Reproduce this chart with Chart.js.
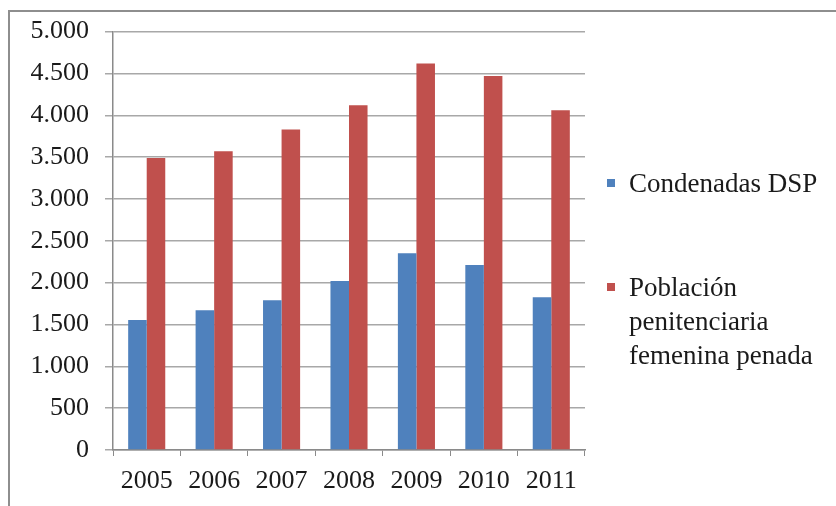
<!DOCTYPE html>
<html>
<head>
<meta charset="utf-8">
<script src="https://cdn.jsdelivr.net/npm/chart.js@4"></script>
<style>
  html, body { margin: 0; padding: 0; background: #fff; }
  #wrap { position: relative; width: 836px; height: 506px; overflow: hidden; }
  #frame {
    position: absolute; left: 8px; top: 10px; width: 828px; height: 496px;
    border-top: 2px solid #8e8e8e; border-left: 2px solid #8e8e8e;
    box-sizing: border-box; pointer-events: none;
  }
  #legend {
    position: absolute; left: 607px; top: 0; width: 229px;
    font-family: "Liberation Serif", "Times New Roman", serif;
    font-size: 27px; line-height: 34px; color: #1a1a1a;
  }
  .item { position: absolute; left: 0; white-space: nowrap; }
  .box { position: absolute; left: 0; width: 8px; height: 8px; }
  .text { position: absolute; left: 22px; top: 0; }
</style>
</head>
<body>
<div id="wrap">
  <canvas id="chart" width="836" height="506"></canvas>
  <div id="frame"></div>
  <div id="legend"></div>
</div>
<script>
const years = ["2005", "2006", "2007", "2008", "2009", "2010", "2011"];
const condenadas = [1555, 1670, 1790, 2020, 2350, 2210, 1825];
const poblacion = [3490, 3570, 3830, 4120, 4620, 4470, 4060];

const seriesNames = [
  ["Condenadas DSP"],
  ["Población", "penitenciaria", "femenina penada"]
];
const colors = ["#4F81BD", "#C0504D"];

// thousands separator with a dot, e.g. 3.500
function formatTick(v) {
  return String(v).replace(/\B(?=(\d{3})+(?!\d))/g, ".");
}

const font = { family: "'Liberation Serif', 'Times New Roman', serif", size: 26 };

new Chart(document.getElementById("chart"), {
  type: "bar",
  data: {
    labels: years,
    datasets: [
      { label: seriesNames[0].join(" "), data: condenadas, backgroundColor: colors[0] },
      { label: seriesNames[1].join(" "), data: poblacion, backgroundColor: colors[1] }
    ]
  },
  options: {
    responsive: false,
    animation: false,
    categoryPercentage: 0.55,
    barPercentage: 1.0,
    layout: {
      padding: { left: 0, right: 251, top: 30, bottom: 0 }
    },
    plugins: {
      legend: { display: false },
      tooltip: { enabled: false }
    },
    scales: {
      x: {
        grid: {
          drawOnChartArea: false,
          drawTicks: true,
          tickLength: 6,
          color: "#8a8a8a"
        },
        border: { color: "#8a8a8a", width: 1.5 },
        ticks: {
          color: "#1a1a1a",
          font: font,
          padding: 10,
          maxRotation: 0
        },
        afterFit: function(scale) {
          scale.height = 56;
        }
      },
      y: {
        min: 0,
        max: 5000,
        grid: {
          color: "#a8a8a8",
          lineWidth: 1.5,
          tickLength: 8
        },
        border: { color: "#8a8a8a", width: 1.5 },
        ticks: {
          stepSize: 500,
          color: "#1a1a1a",
          font: font,
          padding: 16,
          callback: function(value) {
            return formatTick(value);
          }
        },
        afterFit: function(scale) {
          scale.width = 113;
        }
      }
    }
  }
});

// legend on the right, built from the same series names and colours
const legend = document.getElementById("legend");
const itemTops = [166, 270];
seriesNames.forEach(function(lines, i) {
  const item = document.createElement("div");
  item.className = "item";
  item.style.top = itemTops[i] + "px";
  const box = document.createElement("div");
  box.className = "box";
  box.style.top = "13px";
  box.style.background = colors[i];
  const text = document.createElement("div");
  text.className = "text";
  text.innerHTML = lines.join("<br>");
  item.appendChild(box);
  item.appendChild(text);
  legend.appendChild(item);
});
</script>
</body>
</html>
